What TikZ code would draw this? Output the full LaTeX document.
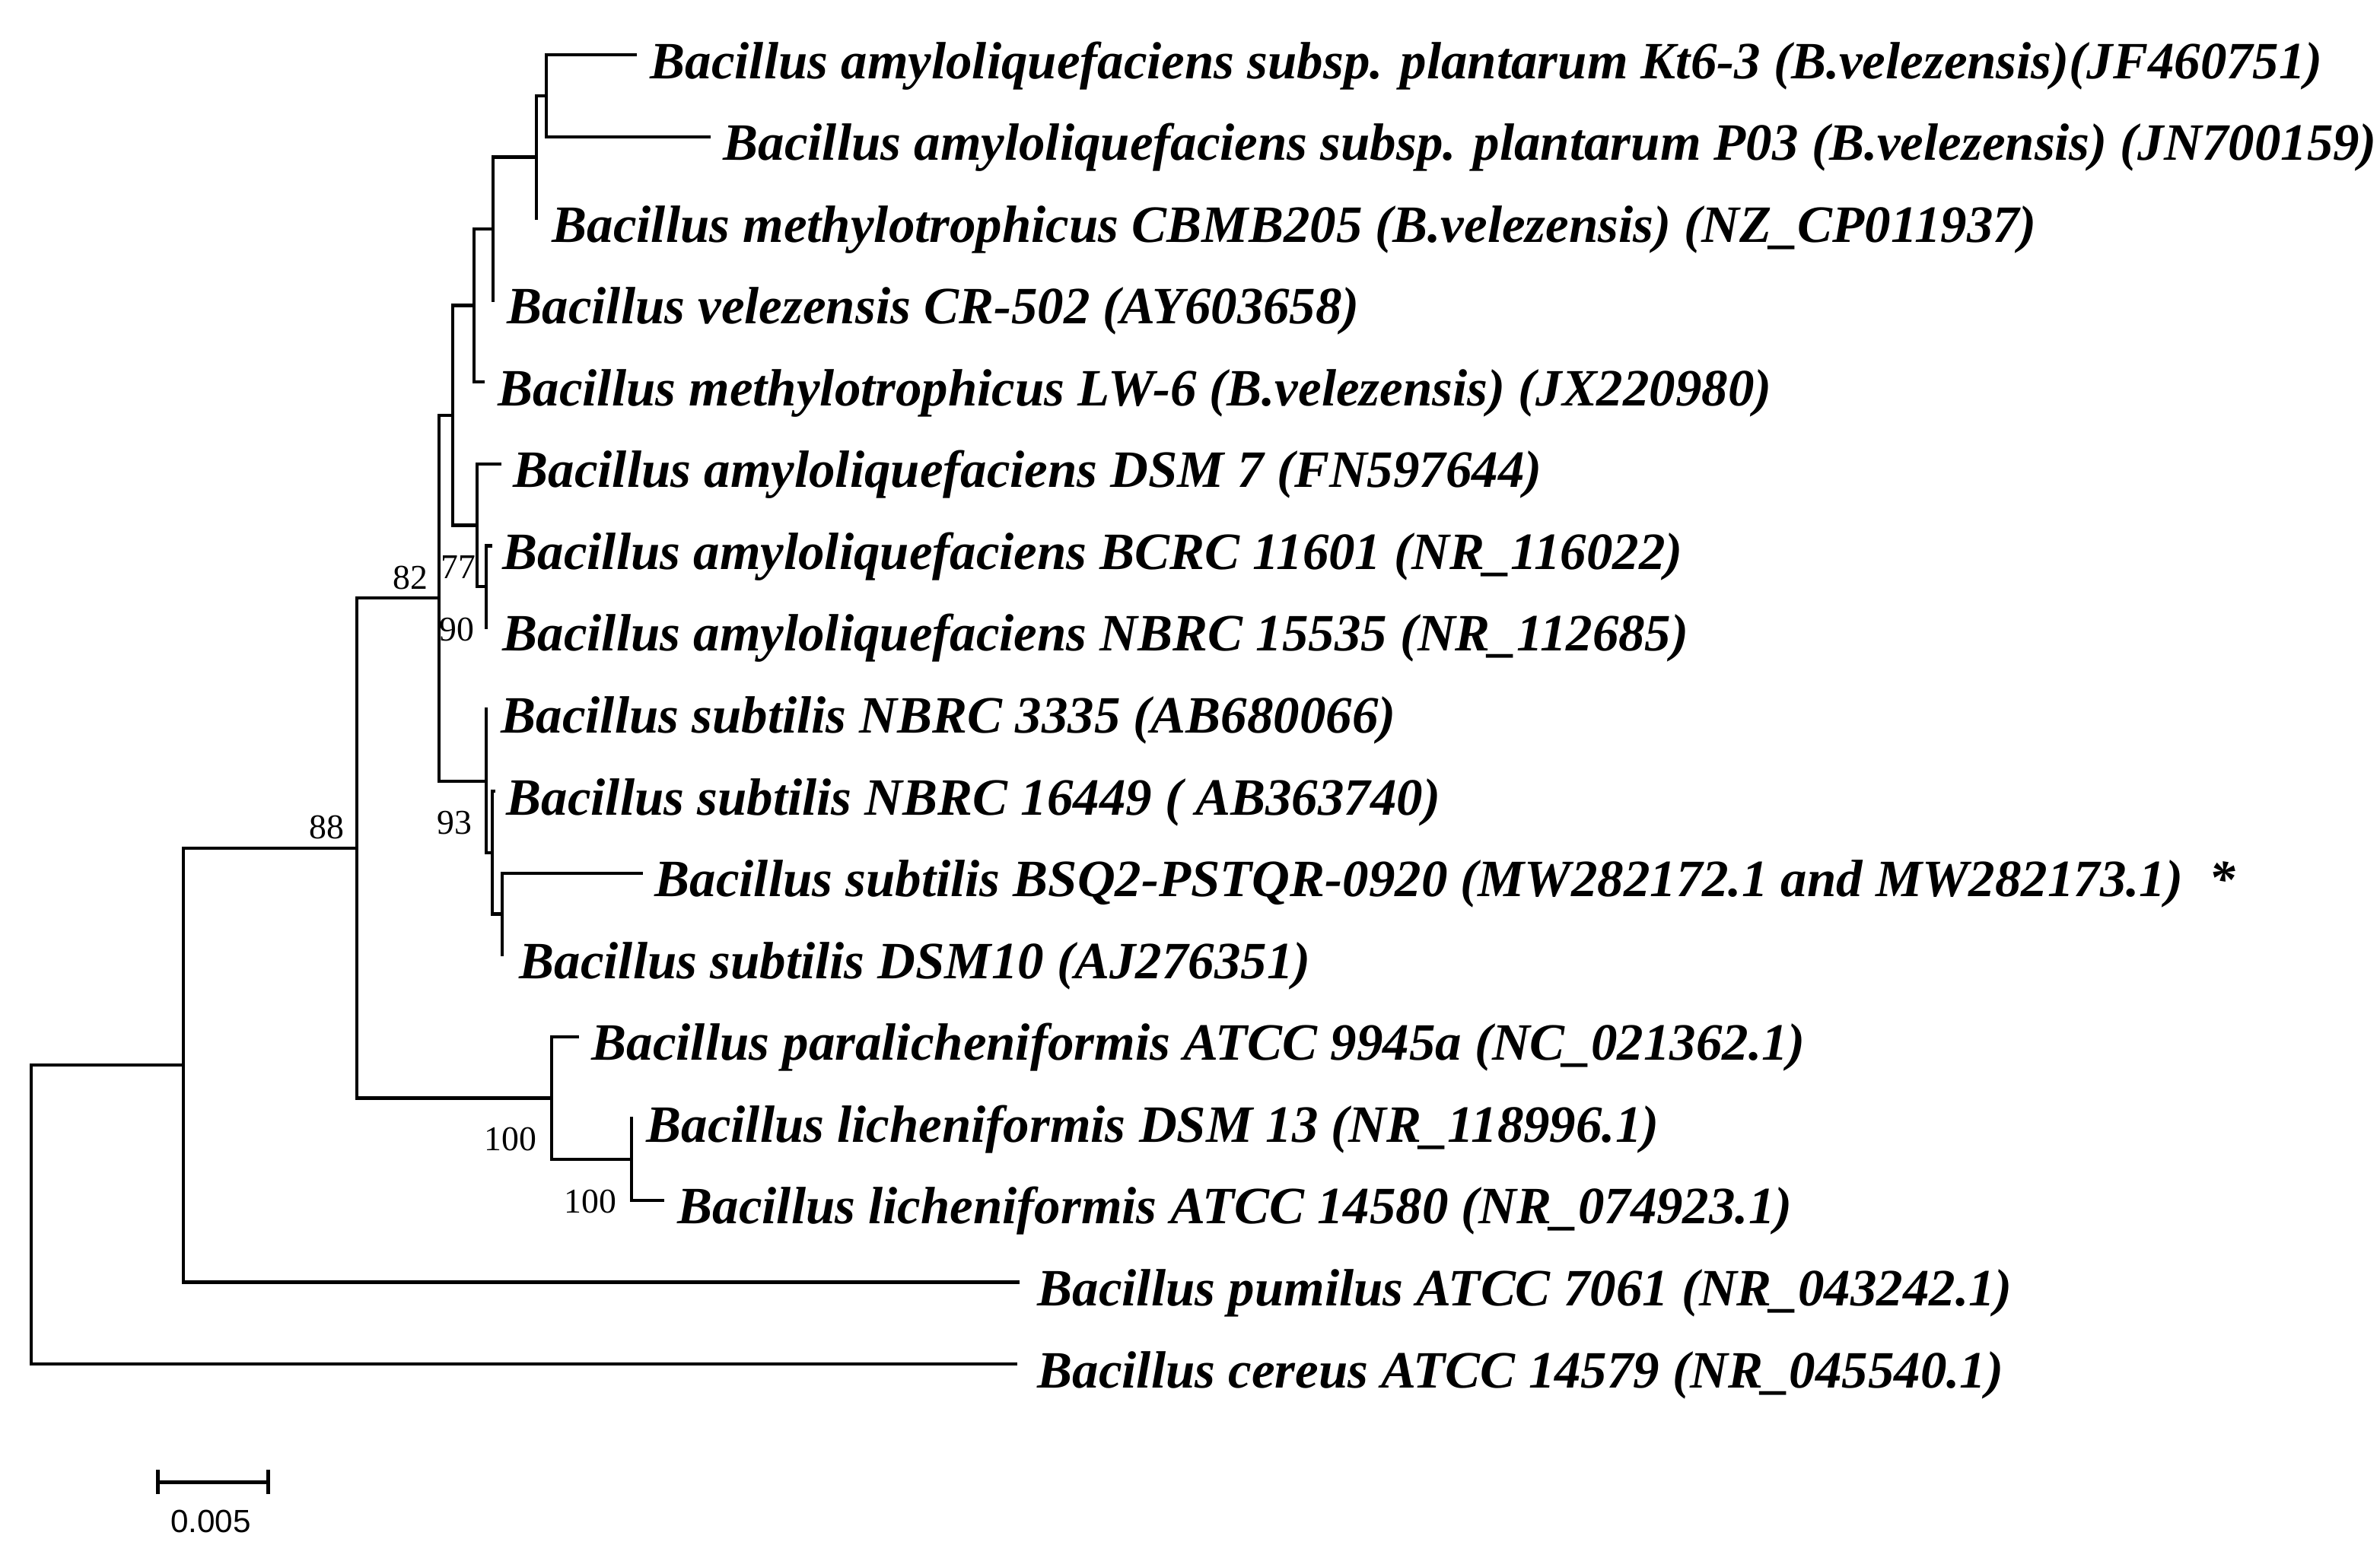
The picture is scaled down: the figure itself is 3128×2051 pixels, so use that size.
\documentclass[tikz,border=0pt]{standalone}
\usepackage{fontspec}
\setmainfont{Liberation Serif}
\newfontfamily\sbarfont{Liberation Sans}
\begin{document}
\begin{tikzpicture}[x=0.01cm,y=-0.01cm,
  branch/.style={line width=0.042cm,line cap=rect},
  taxon/.style={anchor=base west,inner sep=0pt,font=\fontsize{19.6}{22}\selectfont\bfseries\itshape},
  boot/.style={inner sep=0pt,font=\fontsize{13}{15}\selectfont},
  barlabel/.style={inner sep=0pt,font=\fontsize{12}{14}\selectfont\sbarfont}]
\useasboundingbox[fill=white] (0,0) rectangle (3128,2051);
% internal nodes
\coordinate (A) at (718,125.8);
\coordinate (B) at (705,206.5);
\coordinate (C) at (648,300.6);
\coordinate (D) at (623,401.4);
\coordinate (H) at (639,771.2);
\coordinate (G) at (627,690.5);
\coordinate (E) at (595,546);
\coordinate (X) at (660,1201.4);
\coordinate (W) at (647,1120.7);
\coordinate (V) at (639,1026.6);
\coordinate (F) at (577,786.3);
\coordinate (S) at (830,1524);
\coordinate (R) at (725,1443.4);
\coordinate (Q) at (469,1114.9);
\coordinate (P) at (241,1400.1);
\coordinate (O) at (41,1596.6);
% leaf tips
\coordinate (t1) at (835,72);
\coordinate (t2) at (932,179.6);
\coordinate (t3) at (705,287.1);
\coordinate (t4) at (648,394.7);
\coordinate (t5) at (635,502.2);
\coordinate (t6) at (657,609.8);
\coordinate (t7) at (645,717.4);
\coordinate (t8) at (639,824.9);
\coordinate (t9) at (639,932.5);
\coordinate (t10) at (649,1040);
\coordinate (t11) at (843,1147.6);
\coordinate (t12) at (660,1255.2);
\coordinate (t13) at (759,1362.7);
\coordinate (t14) at (830,1470.3);
\coordinate (t15) at (871,1577.8);
\coordinate (t16) at (1338,1685.4);
\coordinate (t17) at (1335,1793);
% labels
\node[taxon] (l1) at (854,103) {Bacillus amyloliquefaciens subsp. plantarum Kt6-3 (B.velezensis)(JF460751)};
\node[taxon] (l2) at (950,210.6) {Bacillus amyloliquefaciens subsp. plantarum P03 (B.velezensis) (JN700159)};
\node[taxon] (l3) at (725,318.1) {Bacillus methylotrophicus CBMB205 (B.velezensis) (NZ\_CP011937)};
\node[taxon] (l4) at (666,425.7) {Bacillus velezensis CR-502 (AY603658)};
\node[taxon] (l5) at (654,533.2) {Bacillus methylotrophicus LW-6 (B.velezensis) (JX220980)};
\node[taxon] (l6) at (674,640.8) {Bacillus amyloliquefaciens DSM 7 (FN597644)};
\node[taxon] (l7) at (660,748.4) {Bacillus amyloliquefaciens BCRC 11601 (NR\_116022)};
\node[taxon] (l8) at (660,855.9) {Bacillus amyloliquefaciens NBRC 15535 (NR\_112685)};
\node[taxon] (l9) at (658,963.5) {Bacillus subtilis NBRC 3335 (AB680066)};
\node[taxon] (l10) at (665,1071) {Bacillus subtilis NBRC 16449 ( AB363740)};
\node[taxon] (l11) at (860,1178.6) {Bacillus subtilis BSQ2-PSTQR-0920 (MW282172.1 and MW282173.1) \ *};
\node[taxon] (l12) at (682,1286.2) {Bacillus subtilis DSM10 (AJ276351)};
\node[taxon] (l13) at (777,1393.7) {Bacillus paralicheniformis ATCC 9945a (NC\_021362.1)};
\node[taxon] (l14) at (849,1501.3) {Bacillus licheniformis DSM 13 (NR\_118996.1)};
\node[taxon] (l15) at (890,1608.8) {Bacillus licheniformis ATCC 14580 (NR\_074923.1)};
\node[taxon] (l16) at (1363,1716.4) {Bacillus pumilus ATCC 7061 (NR\_043242.1)};
\node[taxon] (l17) at (1363,1824) {Bacillus cereus ATCC 14579 (NR\_045540.1)};
% branches
\draw[branch] (A) |- (t1);
\draw[branch] (A) |- (t2);
\draw[branch] (B) |- (A);
\draw[branch] (B) |- (t3);
\draw[branch] (C) |- (B);
\draw[branch] (C) |- (t4);
\draw[branch] (D) |- (C);
\draw[branch] (D) |- (t5);
\draw[branch] (H) |- (t7);
\draw[branch] (H) |- (t8);
\draw[branch] (G) |- (t6);
\draw[branch] (G) |- (H);
\draw[branch] (E) |- (D);
\draw[branch] (E) |- (G);
\draw[branch] (X) |- (t11);
\draw[branch] (X) |- (t12);
\draw[branch] (W) |- (t10);
\draw[branch] (W) |- (X);
\draw[branch] (V) |- (t9);
\draw[branch] (V) |- (W);
\draw[branch] (F) |- (E);
\draw[branch] (F) |- (V);
\draw[branch] (S) |- (t14);
\draw[branch] (S) |- (t15);
\draw[branch] (R) |- (t13);
\draw[branch] (R) |- (S);
\draw[branch] (Q) |- (F);
\draw[branch] (Q) |- (R);
\draw[branch] (P) |- (Q);
\draw[branch] (P) |- (t16);
\draw[branch] (O) |- (P);
\draw[branch] (O) |- (t17);
% bootstrap values
\node[boot,anchor=east] (b82) at (563,760) {82};
\node[boot] (b77) at (602,746) {77};
\node[boot] (b90) at (600,828) {90};
\node[boot] (b93) at (597,1082) {93};
\node[boot] (b88) at (429,1088) {88};
\node[boot] (b100a) at (671,1497) {100};
\node[boot] (b100b) at (776,1579) {100};
% scale bar
\coordinate (s1) at (207,1948);
\coordinate (s2) at (352,1948);
\draw[line width=0.05cm] (s1) -- (s2);
\draw[line width=0.05cm] ([yshift=0.16cm]s1) -- ([yshift=-0.16cm]s1);
\draw[line width=0.05cm] ([yshift=0.16cm]s2) -- ([yshift=-0.16cm]s2);
\node[barlabel] (sl) at (277,2000) {0.005};
\end{tikzpicture}
\end{document}
